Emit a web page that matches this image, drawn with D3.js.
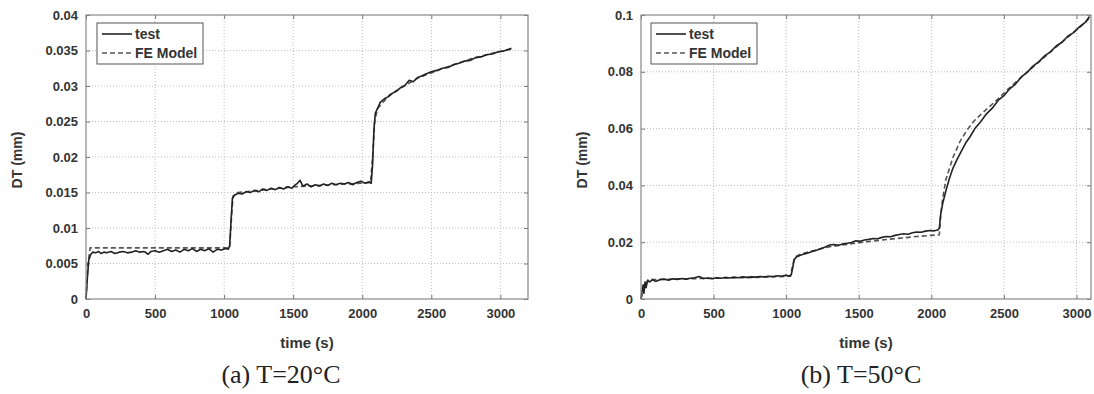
<!DOCTYPE html>
<html>
<head>
<meta charset="utf-8">
<script src="https://cdn.jsdelivr.net/npm/d3@7"></script>
<style>
  html, body { margin: 0; padding: 0; background: #fff; }
  svg { display: block; }
</style>
</head>
<body>
<svg id="chart" width="1094" height="394"></svg>
<script>
// ---------- Data ----------
const seriesNames = ["test", "FE Model"];

// Panel (a) T=20°C
const aTestTime = [0,10,20,35,50,70,90,110,130,150,180,210,240,270,300,330,360,390,420,450,470,500,530,560,590,620,650,680,710,740,770,800,830,860,890,920,950,980,1010,1030,1040,1050,1060,1075,1100,1130,1160,1190,1220,1250,1280,1310,1340,1370,1400,1430,1460,1490,1510,1530,1550,1570,1600,1630,1660,1690,1720,1750,1780,1810,1840,1870,1900,1930,1960,1990,2020,2050,2065,2075,2085,2095,2110,2130,2160,2190,2220,2250,2280,2310,2340,2370,2400,2430,2460,2500,2540,2580,2620,2660,2700,2740,2780,2820,2860,2900,2940,2980,3020,3050,3080];
const aTestDT = [0,0.003,0.0055,0.0063,0.0066,0.0065,0.0067,0.0064,0.0066,0.0065,0.0067,0.0064,0.0066,0.0067,0.0065,0.0066,0.0068,0.0066,0.0067,0.0063,0.0067,0.0068,0.0066,0.0068,0.0070,0.0067,0.0069,0.0066,0.0070,0.0068,0.0071,0.0067,0.0070,0.0068,0.0071,0.0066,0.0070,0.0069,0.0071,0.0070,0.0075,0.011,0.0142,0.0146,0.0149,0.0148,0.0151,0.0150,0.0153,0.0151,0.0155,0.0153,0.0156,0.0154,0.0157,0.0155,0.0158,0.0156,0.0160,0.0163,0.0167,0.0159,0.0162,0.0158,0.0161,0.0159,0.0162,0.0160,0.0163,0.0161,0.0163,0.0162,0.0164,0.0161,0.0164,0.0166,0.0163,0.0165,0.0163,0.019,0.024,0.0262,0.0268,0.0277,0.0282,0.0285,0.0290,0.0293,0.0298,0.0301,0.0308,0.0306,0.0312,0.0314,0.0317,0.0320,0.0322,0.0325,0.0326,0.0330,0.0332,0.0335,0.0336,0.0340,0.0341,0.0344,0.0345,0.0348,0.0349,0.0351,0.0353];
const aFETime = [0,15,30,1040,1055,1065,1100,1300,1500,1800,2060,2075,2090,2110,2200,2400,2600,2800,3000,3080];
const aFEDT = [0,0.005,0.0072,0.0072,0.0120,0.0145,0.0150,0.0154,0.0158,0.0161,0.0164,0.020,0.025,0.0268,0.0288,0.0311,0.0326,0.0339,0.0349,0.0352];

// Panel (b) T=50°C
const bTestTime = [0,8,15,20,28,35,45,60,80,100,130,160,190,220,250,280,310,340,370,400,430,460,490,520,550,580,610,640,670,700,730,760,790,820,850,880,910,940,970,1000,1020,1035,1045,1055,1070,1090,1120,1150,1180,1210,1240,1270,1300,1330,1360,1390,1420,1450,1480,1510,1540,1570,1600,1630,1660,1690,1720,1750,1780,1810,1840,1870,1900,1930,1960,1990,2020,2045,2055,2065,2080,2100,2125,2150,2180,2210,2240,2270,2300,2340,2380,2420,2460,2500,2540,2580,2620,2660,2700,2740,2780,2820,2860,2900,2940,2980,3020,3060,3090];
const bTestDT = [0,0.003,0.005,0.002,0.006,0.004,0.0065,0.006,0.0068,0.0062,0.0068,0.0070,0.0066,0.0071,0.0069,0.0072,0.0070,0.0073,0.0075,0.0079,0.0072,0.0074,0.0071,0.0075,0.0073,0.0076,0.0074,0.0077,0.0075,0.0078,0.0076,0.0078,0.0077,0.0079,0.0078,0.0080,0.0079,0.0082,0.0080,0.0084,0.0081,0.0085,0.011,0.0138,0.0148,0.0152,0.0158,0.0162,0.0167,0.0172,0.0178,0.0183,0.0190,0.0192,0.0189,0.0194,0.0196,0.0199,0.0205,0.0203,0.0208,0.0210,0.0213,0.0212,0.0217,0.0220,0.0219,0.0224,0.0227,0.0230,0.0228,0.0233,0.0236,0.0235,0.0239,0.0241,0.0240,0.0243,0.0250,0.030,0.034,0.038,0.0425,0.0462,0.0494,0.0523,0.0552,0.0574,0.0600,0.0624,0.0652,0.0672,0.0699,0.0716,0.0740,0.0757,0.0782,0.0798,0.0820,0.0835,0.0856,0.0870,0.0891,0.0904,0.0925,0.0938,0.0958,0.0974,0.0995];
const bFETime = [0,20,50,200,500,800,1030,1045,1060,1100,1200,1300,1400,1500,1600,1700,1800,1900,2000,2055,2065,2080,2100,2125,2150,2200,2250,2300,2380,2450,2520,2600,2680,2760,2840,2920,3000,3060,3090];
const bFEDT = [0,0.004,0.0068,0.0070,0.0073,0.0076,0.0080,0.012,0.0148,0.0158,0.0172,0.0184,0.0191,0.0198,0.0204,0.0210,0.0215,0.0220,0.0224,0.0226,0.030,0.036,0.042,0.046,0.050,0.0557,0.0598,0.0630,0.0668,0.0700,0.0735,0.0772,0.0808,0.0843,0.0878,0.0913,0.0948,0.0973,0.0990];

// Tick labels
const xTicks = [0,500,1000,1500,2000,2500,3000];
const aYTicks = [0,0.005,0.01,0.015,0.02,0.025,0.03,0.035,0.04];
const bYTicks = [0,0.02,0.04,0.06,0.08,0.1];
const captions = ["(a) T=20°C", "(b) T=50°C"];
const xLabel = "time (s)";
const yLabel = "DT (mm)";

// ---------- Drawing ----------
const svg = d3.select("#chart");
const FONT = "'Liberation Sans', Arial, sans-serif";

function zip(t, v) { return t.map((d, i) => ({t: d, v: v[i]})); }

function panel(opt) {
  const g = svg.append("g");
  const x = d3.scaleLinear().domain(opt.xDomain).range([opt.left, opt.right]);
  const y = d3.scaleLinear().domain(opt.yDomain).range([opt.bottom, opt.top]);

  // grid
  g.append("g").selectAll("line").data(xTicks.filter(d => d > opt.xDomain[0] && d < opt.xDomain[1]))
    .join("line").attr("x1", d => x(d)).attr("x2", d => x(d)).attr("y1", opt.top).attr("y2", opt.bottom)
    .attr("stroke", "#bdbdbd").attr("stroke-width", 1).attr("stroke-dasharray", "1,2");
  g.append("g").selectAll("line").data(opt.yTicks.filter(d => d > opt.yDomain[0] && d < opt.yDomain[1]))
    .join("line").attr("y1", d => y(d)).attr("y2", d => y(d)).attr("x1", opt.left).attr("x2", opt.right)
    .attr("stroke", "#bdbdbd").attr("stroke-width", 1).attr("stroke-dasharray", "1,2");

  // axes (inward ticks on all sides)
  const xAxis = d3.axisBottom(x).tickValues(xTicks).tickFormat(d3.format("d")).tickSizeInner(-4).tickSizeOuter(0).tickPadding(10);
  const yAxis = d3.axisLeft(y).tickValues(opt.yTicks).tickFormat(d => String(+d.toFixed(4))).tickSizeInner(-4).tickSizeOuter(0).tickPadding(8);
  const xTop = d3.axisTop(x).tickValues(xTicks).tickFormat("").tickSizeInner(-4).tickSizeOuter(0);
  const yRight = d3.axisRight(y).tickValues(opt.yTicks).tickFormat("").tickSizeInner(-4).tickSizeOuter(0);

  const styleAxis = sel => {
    sel.select(".domain").remove();
    sel.selectAll(".tick line").attr("stroke", "#777");
    sel.selectAll("text").attr("font-family", FONT).attr("font-size", 13).attr("font-weight", "bold").attr("fill", "#333");
  };
  g.append("g").attr("transform", `translate(0,${opt.bottom})`).call(xAxis).call(styleAxis);
  g.append("g").attr("transform", `translate(${opt.left},0)`).call(yAxis).call(styleAxis);
  g.append("g").attr("transform", `translate(0,${opt.top})`).call(xTop).call(styleAxis);
  g.append("g").attr("transform", `translate(${opt.right},0)`).call(yRight).call(styleAxis);

  // lines
  const line = d3.line().x(d => x(d.t)).y(d => y(d.v));
  g.append("path").datum(zip(opt.feT, opt.feV)).attr("d", line)
    .attr("fill", "none").attr("stroke", "#555").attr("stroke-width", 1.6).attr("stroke-dasharray", "5,3");
  g.append("path").datum(zip(opt.testT, opt.testV)).attr("d", line)
    .attr("fill", "none").attr("stroke", "#222").attr("stroke-width", 1.6).attr("stroke-linejoin", "round");

  // box
  g.append("rect").attr("x", opt.left).attr("y", opt.top).attr("width", opt.right - opt.left).attr("height", opt.bottom - opt.top)
    .attr("fill", "none").attr("stroke", "#888").attr("stroke-width", 1.2);

  // legend
  const lg = g.append("g").attr("transform", `translate(${opt.legX},${opt.legY})`);
  lg.append("rect").attr("x", 0).attr("y", 0).attr("width", 106).attr("height", 41)
    .attr("fill", "#fff").attr("stroke", "#555").attr("stroke-width", 1);
  seriesNames.forEach((name, i) => {
    const yy = 11 + i * 19;
    lg.append("line").attr("x1", 5).attr("x2", 35).attr("y1", yy).attr("y2", yy)
      .attr("stroke", i === 0 ? "#222" : "#555").attr("stroke-width", 1.6)
      .attr("stroke-dasharray", i === 0 ? null : "5,3");
    lg.append("text").attr("x", 38).attr("y", yy + 5).text(name)
      .attr("font-family", FONT).attr("font-size", 14).attr("font-weight", "bold").attr("fill", "#333");
  });

  // axis labels
  g.append("text").attr("x", (opt.left + opt.right) / 2).attr("y", 348).attr("text-anchor", "middle")
    .text(xLabel).attr("font-family", FONT).attr("font-size", 15).attr("font-weight", "bold").attr("fill", "#333");
  g.append("text").attr("transform", `translate(${opt.yLabelX},${opt.yLabelY}) rotate(-90)`)
    .attr("text-anchor", "middle").text(yLabel)
    .attr("font-family", FONT).attr("font-size", 14).attr("font-weight", "bold").attr("fill", "#333");
  // caption
  g.append("text").attr("x", opt.capX).attr("y", 383).attr("text-anchor", "middle").text(opt.caption)
    .attr("font-family", "'Liberation Serif', 'Times New Roman', serif").attr("font-size", 26).attr("fill", "#222");
}

panel({
  left: 86, right: 528, top: 15, bottom: 299,
  xDomain: [0, 3200], yDomain: [0, 0.04], yTicks: aYTicks,
  testT: aTestTime, testV: aTestDT, feT: aFETime, feV: aFEDT,
  legX: 97, legY: 23, yLabelX: 22, yLabelY: 160, capX: 281, caption: captions[0]
});
panel({
  left: 641, right: 1091, top: 15, bottom: 299,
  xDomain: [0, 3100], yDomain: [0, 0.1], yTicks: bYTicks,
  testT: bTestTime, testV: bTestDT, feT: bFETime, feV: bFEDT,
  legX: 651, legY: 23, yLabelX: 587, yLabelY: 160, capX: 861, caption: captions[1]
});
</script>
</body>
</html>
